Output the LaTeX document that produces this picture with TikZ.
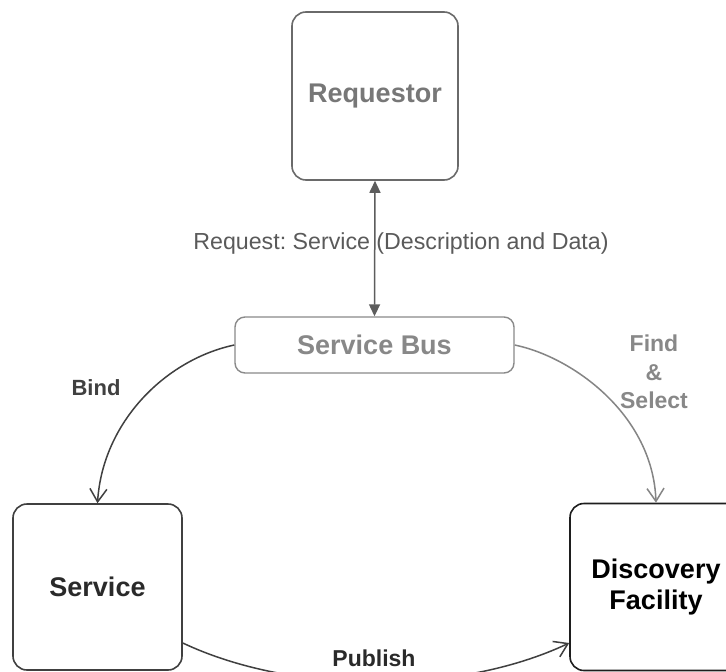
\documentclass[tikz,border=0pt]{standalone}
\usepackage{fontspec}
\setmainfont{Liberation Sans}
\usetikzlibrary{arrows.meta}
\frenchspacing

\definecolor{reqline}{HTML}{6A6A6A}
\definecolor{reqtext}{HTML}{777777}
\definecolor{busline}{HTML}{8A8A8A}
\definecolor{bustext}{HTML}{888888}
\definecolor{darkline}{HTML}{404040}
\definecolor{darktext}{HTML}{2A2A2A}
\definecolor{blackline}{HTML}{1E1E1E}
\definecolor{labeltext}{HTML}{5A5A5A}
\definecolor{findline}{HTML}{858585}

\tikzset{
  box/.style={draw, rounded corners=14pt, line width=1.6pt, fill=white,
    inner sep=0pt, align=center, font=\fontsize{27}{31}\selectfont\bfseries},
  lbl/.style={inner sep=0pt, align=center},
  flow/.style={line width=1.5pt, -{Straight Barb[length=13pt,width=17pt,line width=1.5pt]}},
}

\begin{document}
\begin{tikzpicture}[x=1pt,y=-1pt]
  \clip (0,0) rectangle (726,672);
  \fill[white] (0,0) rectangle (726,672);

  % boxes
  \node[box, draw=reqline, text=reqtext, minimum width=166pt, minimum height=168pt]
    (req) at (375,96) {Requestor};
  \node[box, draw=busline, text=bustext, line width=1.4pt, rounded corners=10pt,
    minimum width=279pt, minimum height=56pt]
    (bus) at (374.5,345) {Service Bus};
  \node[box, draw=darkline, text=darktext, minimum width=169pt, minimum height=166pt]
    (svc) at (97.5,587) {Service};
  \node[box, draw=blackline, text=black, minimum width=172pt, minimum height=167pt]
    (disc) at (656,587) {Discovery\\Facility};

  % request between requestor and bus
  \draw[line width=1.5pt, draw=darkline!85,
    {Triangle[length=12pt,width=11pt]}-{Triangle[length=12pt,width=11pt]}]
    (req.south) -- (bus.north);
  \node[lbl, text=labeltext, font=\fontsize{23.2}{27}\selectfont] (reqlbl) at (401,243)
    {Request: Service (Description and Data)};

  % bind
  \draw[flow, draw=darkline] (bus.west) .. controls +(-70,15) and +(5,-80) .. (svc.north);
  \node[lbl, text=darkline, font=\fontsize{22}{26}\selectfont\bfseries] (bind) at (96,388) {Bind};

  % find & select
  \draw[flow, draw=findline] (bus.east) .. controls +(58,12) and +(-3,-88) .. (disc.north);
  \node[lbl, text=bustext, font=\fontsize{23}{28.5}\selectfont\bfseries] (find) at (654,372)
    {Find\\\&\\Select};

  % publish
  \coordinate (pubs) at ([yshift=-56pt]svc.east);
  \coordinate (pube) at ([yshift=-56pt]disc.west);
  \draw[flow, draw=darkline] (pubs) .. controls +(110,52) and +(-110,52) .. (pube);
  \node[lbl, text=darktext, font=\fontsize{23}{27}\selectfont\bfseries] (pub) at (374,658) {Publish};
\end{tikzpicture}
\end{document}
